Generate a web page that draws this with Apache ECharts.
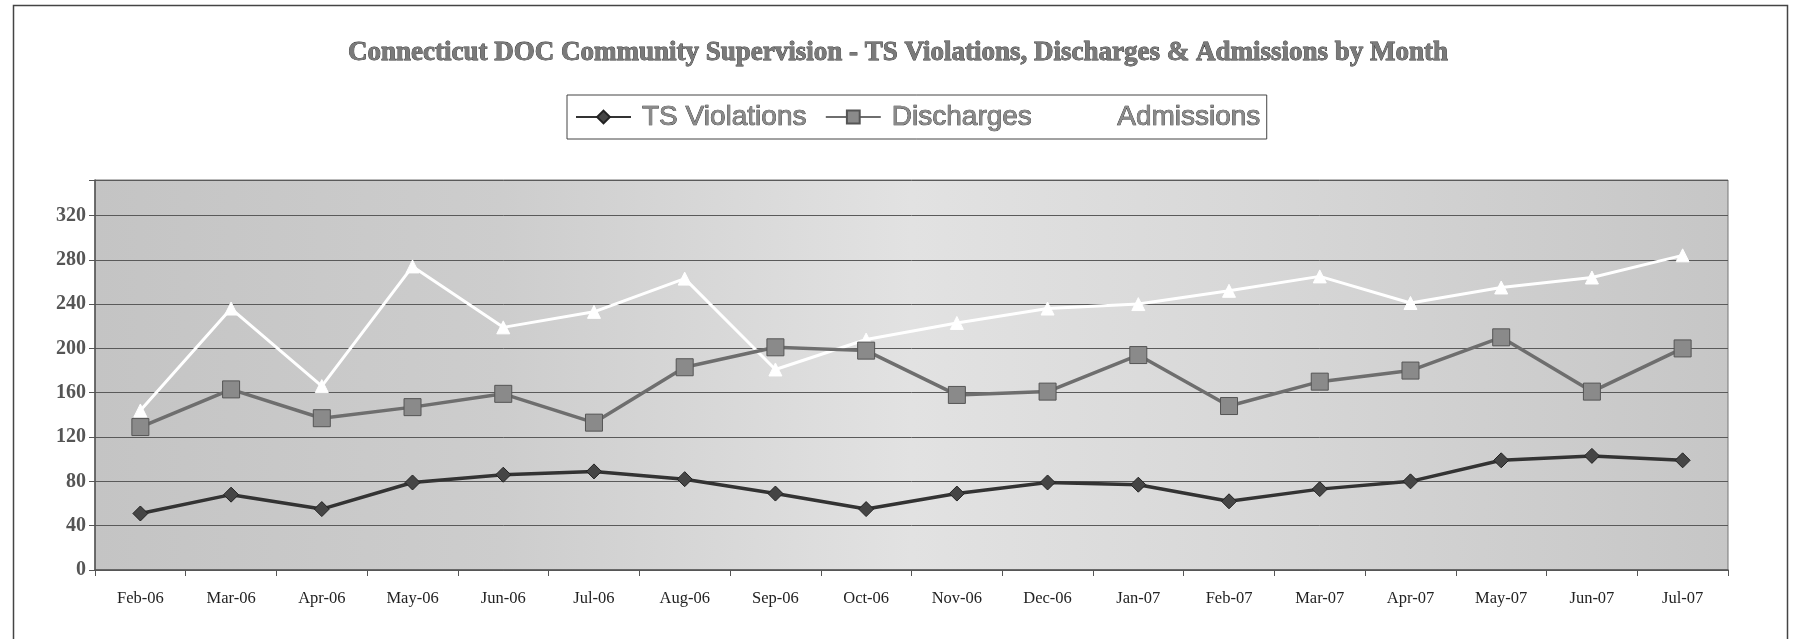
<!DOCTYPE html>
<html>
<head>
<meta charset="utf-8">
<script src="https://cdn.jsdelivr.net/npm/echarts@6/dist/echarts.min.js"></script>
<style>
html,body{margin:0;padding:0;background:#fff;}
#chart{width:1796px;height:639px;}
</style>
</head>
<body>
<div id="chart"></div>
<script>
const titleText = 'Connecticut DOC Community Supervision - TS Violations, Discharges & Admissions by Month';
const months = ['Feb-06','Mar-06','Apr-06','May-06','Jun-06','Jul-06','Aug-06','Sep-06','Oct-06','Nov-06','Dec-06','Jan-07','Feb-07','Mar-07','Apr-07','May-07','Jun-07','Jul-07'];
const tsViolations = [51, 68, 55, 79, 86, 89, 82, 69, 55, 69, 79, 77, 62, 73, 80, 99, 103, 99];
const discharges   = [129, 163, 137, 147, 159, 133, 183, 201, 198, 158, 161, 194, 148, 170, 180, 210, 161, 200];
const admissions   = [144, 236, 166, 274, 219, 233, 263, 181, 208, 223, 236, 240, 252, 265, 241, 255, 264, 284];
const yTicks = [0, 40, 80, 120, 160, 200, 240, 280, 320];

const chart = echarts.init(document.getElementById('chart'), null, {renderer:'canvas'});
chart.setOption({
  backgroundColor:'#ffffff',
  animation:false,
  graphic:[{
    type:'rect', left:11, top:3, shape:{x:0,y:0,width:1774,height:700},
    style:{fill:'none', stroke:'#444', lineWidth:1.5}, z:-1
  }],
  title:{
    text:titleText,
    left:'center', top:35,
    textStyle:{fontFamily:'Liberation Serif', fontWeight:'bold', fontSize:27, color:'#7a7a7a', textBorderColor:'#333', textBorderWidth:0.8}
  },
  legend:{
    left:567, top:95,
    padding:[7,6,7,8],
    itemGap:18, itemWidth:55, itemHeight:16,
    borderColor:'#444', borderWidth:1, backgroundColor:'#fff',
    textStyle:{fontFamily:'Liberation Sans', fontSize:28, lineHeight:30, padding:[0,0,0,6], color:'#8a8a8a', textBorderColor:'#222', textBorderWidth:0.7},
    data:['TS Violations','Discharges','Admissions']
  },
  grid:{
    left:95, top:180, width:1633, height:390,
    show:true, borderColor:'#777', borderWidth:1,
    backgroundColor:{type:'linear', x:0, y:0, x2:1, y2:0, colorStops:[
      {offset:0, color:'#c4c4c4'},{offset:0.25,color:'#cdcdcd'},{offset:0.5,color:'#e2e2e2'},{offset:0.7,color:'#d8d8d8'},{offset:1,color:'#c6c6c6'}]}
  },
  xAxis:{
    type:'category', data:months, boundaryGap:true,
    axisLine:{lineStyle:{color:'#555', width:1.5}},
    axisTick:{show:true, length:6, lineStyle:{color:'#555'}},
    axisLabel:{fontFamily:'Liberation Serif', fontSize:16.5, color:'#222', margin:20}
  },
  yAxis:{
    type:'value', min:0, max:352, interval:40,
    axisLine:{show:true, lineStyle:{color:'#555', width:1.5}},
    axisTick:{show:true, length:6, lineStyle:{color:'#555'}},
    axisLabel:{fontFamily:'Liberation Serif', fontWeight:'bold', fontSize:20, color:'#555', margin:9,
      formatter:function(v){ return yTicks.indexOf(v) >= 0 ? String(v) : ''; }},
    splitLine:{show:true, lineStyle:{color:'#5a5a5a', width:1}}
  },
  series:[
    {name:'TS Violations', type:'line', data:tsViolations, symbol:'diamond', symbolSize:15,
     lineStyle:{color:'#333', width:3.5}, itemStyle:{color:'#454545', borderColor:'#222', borderWidth:1}, z:4},
    {name:'Discharges', type:'line', data:discharges, symbol:'rect', symbolSize:17,
     lineStyle:{color:'#6e6e6e', width:3.5}, itemStyle:{color:'#8a8a8a', borderColor:'#555', borderWidth:1}, z:3},
    {name:'Admissions', type:'line', data:admissions, symbol:'triangle', symbolSize:13,
     lineStyle:{color:'#ffffff', width:3}, itemStyle:{color:'#ffffff', borderColor:'#ffffff'}, z:2}
  ]
});
</script>
</body>
</html>
